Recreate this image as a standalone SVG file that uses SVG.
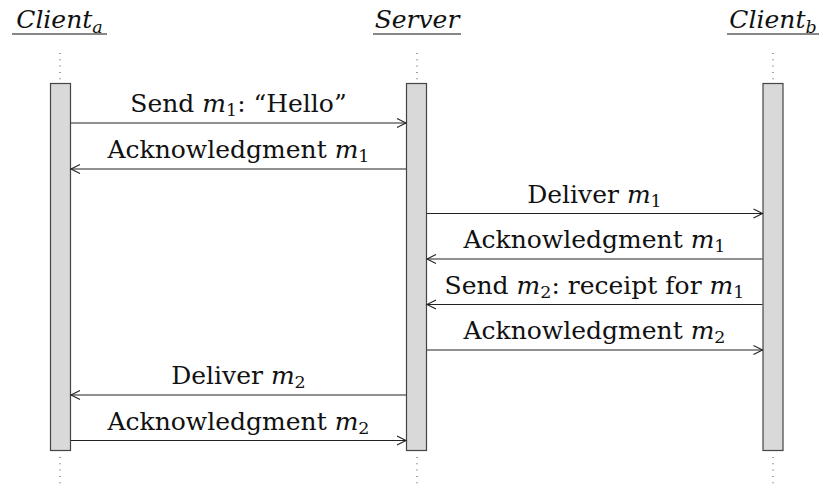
<svg xmlns="http://www.w3.org/2000/svg" width="821" height="486" viewBox="0 0 821 486">
<style>
text{font-family:"DejaVu Serif",serif;font-size:25px;fill:#111}
.lab{text-anchor:middle}
.it{font-style:italic}
.sub{font-size:17.5px}
.title{font-style:italic;text-anchor:middle}
.ul{stroke:#111;stroke-width:1.2}
.bar{fill:#d9d9d9;stroke:#444;stroke-width:1.2}
.life{stroke:#666;stroke-width:1.2;stroke-dasharray:1 5.3}
.msg{stroke:#222;stroke-width:1.2;fill:none;marker-end:url(#arr)}
</style>
<defs>
<marker id="arr" viewBox="-10 -6 12 12" refX="0" refY="0" markerWidth="12" markerHeight="12" markerUnits="userSpaceOnUse" orient="auto">
<path d="M-9,-4.5 Q-3,-1.5 0,0 Q-3,1.5 -9,4.5" fill="none" stroke="#222" stroke-width="1.1"/>
</marker>
</defs>
<rect width="821" height="486" fill="#fff"/>

<g id="client_a">
<text class="title" x="59.5" y="28">Client<tspan class="sub" dy="5">a</tspan></text>
<line class="ul" x1="12" y1="34" x2="107" y2="34"/>
<line class="life" x1="60" y1="53" x2="60" y2="83"/>
<rect class="bar" x="50.5" y="83.5" width="20" height="367"/>
<line class="life" x1="60" y1="457" x2="60" y2="484"/>
</g>

<g id="server">
<text class="title" x="417" y="28">Server</text>
<line class="ul" x1="373" y1="34" x2="461" y2="34"/>
<line class="life" x1="417" y1="53" x2="417" y2="83"/>
<rect class="bar" x="406.5" y="83.5" width="20" height="367"/>
<line class="life" x1="417" y1="457" x2="417" y2="484"/>
</g>

<g id="client_b">
<text class="title" x="773" y="28">Client<tspan class="sub" dy="5">b</tspan></text>
<line class="ul" x1="727" y1="34" x2="819" y2="34"/>
<line class="life" x1="773" y1="53" x2="773" y2="83"/>
<rect class="bar" x="763" y="83.5" width="20" height="367"/>
<line class="life" x1="773" y1="457" x2="773" y2="484"/>
</g>

<g id="connectors">
<line class="msg" x1="71" y1="123" x2="406" y2="123"/>
<line class="msg" x1="406" y1="169" x2="71" y2="169"/>
<line class="msg" x1="427" y1="213.5" x2="762.5" y2="213.5"/>
<line class="msg" x1="762.5" y1="259" x2="427" y2="259"/>
<line class="msg" x1="762.5" y1="304.5" x2="427" y2="304.5"/>
<line class="msg" x1="427" y1="350" x2="762.5" y2="350"/>
<line class="msg" x1="406" y1="395" x2="71" y2="395"/>
<line class="msg" x1="71" y1="440.5" x2="406" y2="440.5"/>
</g>

<g id="labels">
<text class="lab" x="238.5" y="112">Send <tspan class="it">m</tspan><tspan class="sub" dy="4">1</tspan><tspan dy="-4">: “Hello”</tspan></text>
<text class="lab" x="238.5" y="158">Acknowledgment <tspan class="it">m</tspan><tspan class="sub" dy="4">1</tspan></text>
<text class="lab" x="594.5" y="202.5">Deliver <tspan class="it">m</tspan><tspan class="sub" dy="4">1</tspan></text>
<text class="lab" x="594.5" y="248">Acknowledgment <tspan class="it">m</tspan><tspan class="sub" dy="4">1</tspan></text>
<text class="lab" x="594.5" y="293.5">Send <tspan class="it">m</tspan><tspan class="sub" dy="4">2</tspan><tspan dy="-4">: receipt for </tspan><tspan class="it">m</tspan><tspan class="sub" dy="4">1</tspan></text>
<text class="lab" x="594.5" y="339">Acknowledgment <tspan class="it">m</tspan><tspan class="sub" dy="4">2</tspan></text>
<text class="lab" x="238.5" y="384">Deliver <tspan class="it">m</tspan><tspan class="sub" dy="4">2</tspan></text>
<text class="lab" x="238.5" y="429.5">Acknowledgment <tspan class="it">m</tspan><tspan class="sub" dy="4">2</tspan></text>
</g>
</svg>
